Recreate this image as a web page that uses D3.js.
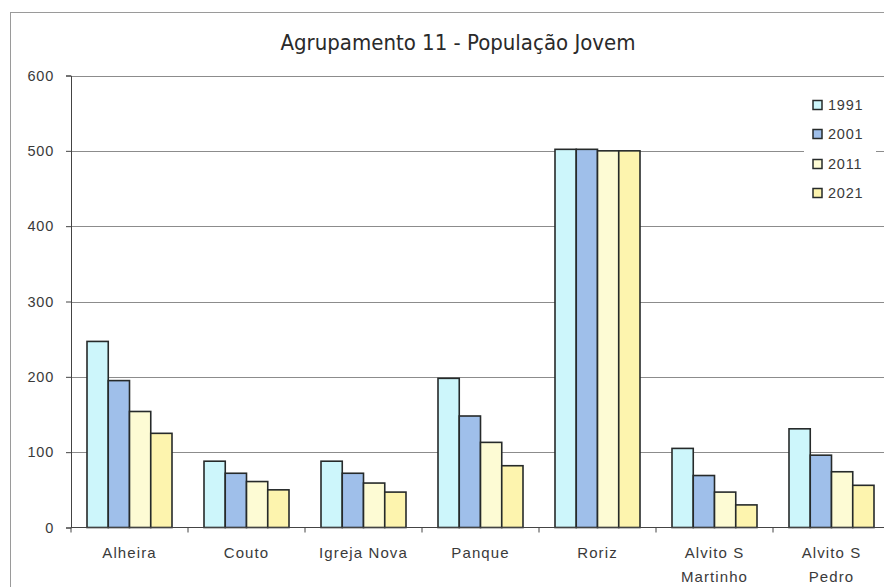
<!DOCTYPE html>
<html>
<head>
<meta charset="utf-8">
<script src="https://cdn.jsdelivr.net/npm/d3@7"></script>
<style>
  html, body { margin: 0; padding: 0; background: #fff; }
  svg { display: block; }
</style>
</head>
<body>
<svg id="chart" width="884" height="587"></svg>
<script>
const categories = ["Alheira", "Couto", "Igreja Nova", "Panque", "Roriz", "Alvito S|Martinho", "Alvito S|Pedro"];
const years = ["1991", "2001", "2011", "2021"];
const v1991 = [247, 88, 88, 198, 502, 105, 131];
const v2001 = [195, 72, 72, 148, 502, 69, 96];
const v2011 = [154, 61, 59, 113, 500, 47, 74];
const v2021 = [125, 50, 47, 82, 500, 30, 56];
const yTicks = [0, 100, 200, 300, 400, 500, 600];
const colors = ["#cdf6fb", "#9fbfea", "#fdfbd4", "#fdf4ae"];
const title = "Agrupamento 11 - População Jovem";

const seriesValues = [v1991, v2001, v2011, v2021];
const svg = d3.select("#chart");

// outer chart border
svg.append("rect").attr("x", 10.5).attr("y", 12.5).attr("width", 900).attr("height", 600)
  .attr("fill", "#fff").attr("stroke", "#9a9a9a").attr("stroke-width", 1);

const x0 = d3.scaleBand().domain(categories).range([71, 890]).paddingInner(0.2735).paddingOuter(0.2735 / 2);
const x1 = d3.scaleBand().domain(years).range([0, x0.bandwidth()]);
const y = d3.scaleLinear().domain([0, 600]).range([527.5, 75.5]);

// gridlines
svg.append("g").selectAll("line").data(yTicks.filter(d => d > 0)).join("line")
  .attr("x1", 71).attr("x2", 900)
  .attr("y1", d => Math.round(y(d)) + 0.5).attr("y2", d => Math.round(y(d)) + 0.5)
  .attr("stroke", "#8c8c8c").attr("stroke-width", 1);

// bars
const groups = svg.append("g").selectAll("g").data(categories).join("g")
  .attr("transform", c => `translate(${x0(c)},0)`);
groups.selectAll("rect").data((c, i) => years.map((yr, k) => ({ yr, k, v: seriesValues[k][i] }))).join("rect")
  .attr("x", d => x1(d.yr))
  .attr("y", d => y(d.v))
  .attr("width", x1.bandwidth())
  .attr("height", d => y(0) - y(d.v))
  .attr("fill", d => colors[d.k])
  .attr("stroke", "#262a2a").attr("stroke-width", 1.6);

// y axis
const yAxis = d3.axisLeft(y).tickValues(yTicks).tickSize(5).tickPadding(12).tickFormat(d3.format("d"));
const gy = svg.append("g").attr("transform", "translate(71,0)").call(yAxis);
gy.select(".domain").attr("stroke", "#444");
gy.selectAll(".tick line").attr("stroke", "#444");
gy.selectAll(".tick text").attr("font-family", "Liberation Sans, Arial, sans-serif")
  .attr("font-size", 14.5).attr("fill", "#3a3a3a").attr("letter-spacing", "0.8px");

// x axis
const xAxis = d3.axisBottom(x0).tickSize(0).tickFormat("");
const gx = svg.append("g").attr("transform", `translate(0,${y(0)})`).call(xAxis);
gx.select(".domain").attr("stroke", "#444").attr("d", `M71,0H900`);
// category boundary ticks
const bounds = categories.map(c => x0(c) - x0.step() * x0.paddingInner() / 2);
svg.append("g").selectAll("line").data(bounds).join("line")
  .attr("x1", d => d).attr("x2", d => d)
  .attr("y1", y(0)).attr("y2", y(0) + 5)
  .attr("stroke", "#444");

// category labels
const lbl = svg.append("g").selectAll("text").data(categories).join("text")
  .attr("x", c => x0(c) + x0.bandwidth() / 2)
  .attr("y", 558)
  .attr("text-anchor", "middle")
  .attr("font-family", "Liberation Sans, Arial, sans-serif")
  .attr("font-size", 15).attr("fill", "#3a3a3a").attr("letter-spacing", "1.1px");
lbl.each(function (c) {
  const parts = c.split("|");
  const t = d3.select(this);
  parts.forEach((p, i) => {
    t.append("tspan").attr("x", x0(c) + x0.bandwidth() / 2).attr("dy", i === 0 ? 0 : 24).text(p);
  });
});

// title
svg.append("text").attr("x", 458).attr("y", 50).attr("text-anchor", "middle")
  .attr("font-family", "DejaVu Sans Condensed, DejaVu Sans, sans-serif")
  .attr("font-size", 22).attr("fill", "#2a2a2a").text(title);

// legend
const leg = svg.append("g");
leg.append("rect").attr("x", 804).attr("y", 88).attr("width", 72).attr("height", 120).attr("fill", "#fff");
const legYs = [105, 134, 164, 193];
years.forEach((yr, k) => {
  leg.append("rect").attr("x", 813).attr("y", legYs[k] - 4.5).attr("width", 9).attr("height", 9)
    .attr("fill", colors[k]).attr("stroke", "#262a2a").attr("stroke-width", 1.5);
  leg.append("text").attr("x", 828).attr("y", legYs[k] + 5)
    .attr("font-family", "Liberation Sans, Arial, sans-serif")
    .attr("font-size", 14.5).attr("fill", "#3a3a3a").attr("letter-spacing", "0.8px").text(yr);
});
</script>
</body>
</html>
